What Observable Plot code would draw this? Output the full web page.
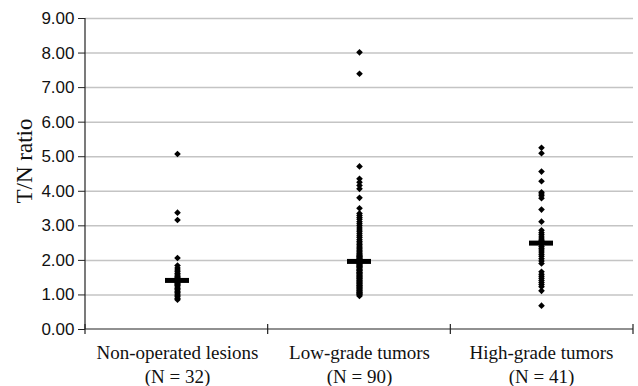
<!DOCTYPE html>
<html>
<head>
<meta charset="utf-8">
<script src="https://cdn.jsdelivr.net/npm/d3@7"></script>
<script src="https://cdn.jsdelivr.net/npm/@observablehq/plot@0.6"></script>
<style>
  html, body { margin: 0; padding: 0; background: #fff; }
</style>
</head>
<body>
<div id="chart"></div>
<script>
const groups = ["Non-operated lesions", "Low-grade tumors", "High-grade tumors"];
const counts = [32, 90, 41];
const yTicks = [0, 1, 2, 3, 4, 5, 6, 7, 8, 9];

const nonOperated = [5.08, 3.38, 3.17, 2.07,
  1.85, 1.78, 1.72, 1.67, 1.62, 1.58, 1.54, 1.51, 1.48, 1.46, 1.44, 1.43,
  1.41, 1.39, 1.36, 1.33, 1.30, 1.27, 1.23, 1.19, 1.15, 1.11, 1.07, 1.03, 0.99, 0.95, 0.90, 0.86];

const lowGrade = [8.02, 7.40, 4.72, 4.36, 4.26, 4.17, 4.07, 3.81, 3.51,
  3.36, 3.30, 3.24, 3.19, 3.12, 3.06, 3.00, 2.94, 2.88, 2.83, 2.77, 2.71, 2.66, 2.60, 2.55, 2.50,
  2.46, 2.42, 2.38, 2.34, 2.30, 2.27, 2.24, 2.21, 2.18, 2.15, 2.13, 2.11, 2.09, 2.07, 2.05, 2.03,
  2.02, 2.01, 2.00, 1.98,
  1.96, 1.94, 1.92, 1.90, 1.88, 1.86, 1.84, 1.82, 1.80, 1.78, 1.75, 1.73, 1.71, 1.69, 1.66, 1.64,
  1.62, 1.60, 1.57, 1.55, 1.53, 1.50, 1.48, 1.46, 1.43, 1.41, 1.39, 1.36, 1.34, 1.32, 1.29, 1.27,
  1.25, 1.22, 1.20, 1.18, 1.15, 1.13, 1.11, 1.08, 1.06, 1.04, 1.02, 1.00, 0.97];

const highGrade = [5.26, 5.10, 4.57, 4.29, 3.97, 3.92, 3.87, 3.80, 3.47, 3.12,
  2.87, 2.80, 2.74, 2.68, 2.62, 2.58, 2.55, 2.53, 2.52, 2.51, 2.50,
  2.46, 2.40, 2.35, 2.30, 2.24, 2.18, 2.12, 2.05, 1.98, 1.91,
  1.67, 1.60, 1.54, 1.48, 1.42, 1.36, 1.30, 1.24, 1.12, 0.69];

const series = [nonOperated, lowGrade, highGrade];
const data = groups.flatMap((g, i) => series[i].map(v => ({group: g, value: v})));

function frameLines(index, scales, values, dimensions) {
  const {width, marginLeft, marginRight, marginTop} = dimensions;
  const left = marginLeft, right = width - marginRight;
  const y0 = scales.y(0);
  const g = d3.create("svg:g").attr("stroke", "#222").attr("stroke-width", 1.2);
  g.append("line").attr("x1", left).attr("x2", left).attr("y1", marginTop).attr("y2", y0);
  g.append("line").attr("x1", left).attr("x2", right).attr("y1", y0).attr("y2", y0);
  const bw = (right - left) / groups.length;
  for (let i = 0; i <= groups.length; i++) {
    const xx = left + i * bw;
    g.append("line").attr("x1", xx).attr("x2", xx).attr("y1", y0 - 5).attr("y2", y0 + 5);
  }
  return g.node();
}

const chart = Plot.plot({
  width: 638,
  height: 386,
  marginLeft: 85,
  marginRight: 5,
  marginTop: 18,
  marginBottom: 57,
  style: {fontFamily: "'Liberation Sans', Arial, sans-serif", background: "#fff", color: "#111"},
  x: {domain: groups, padding: 0, label: null},
  y: {domain: [0, 9], label: null},
  marks: [
    Plot.ruleY(yTicks.slice(1), {stroke: "#c4c4c4", strokeWidth: 1.5}),
    Plot.axisY({ticks: yTicks, tickFormat: d3.format(".2f"), tickSize: 7, tickPadding: 4,
      fontSize: 17, label: null, stroke: "#222"}),
    Plot.axisX({tickSize: 0, tickPadding: 13, label: null, fontSize: 19,
      fontFamily: "'Liberation Serif', 'Times New Roman', serif", lineHeight: 1.25,
      tickFormat: d => `${d}\n(N = ${counts[groups.indexOf(d)]})`}),
    frameLines,
    Plot.dot(data, {x: "group", y: "value", symbol: "diamond2", r: 3, fill: "#000", stroke: "none"}),
    Plot.tickY(data, Plot.groupX({y: "median"}, {x: "group", y: "value", stroke: "#000", strokeWidth: 5, inset: 79})),
    Plot.text(["T/N ratio"], {frameAnchor: "left", textAnchor: "middle", lineAnchor: "middle",
      rotate: -90, dx: -61, dy: -13, fontSize: 23,
      fontFamily: "'Liberation Serif', 'Times New Roman', serif", fill: "#111"})
  ]
});
document.getElementById("chart").appendChild(chart);
</script>
</body>
</html>
